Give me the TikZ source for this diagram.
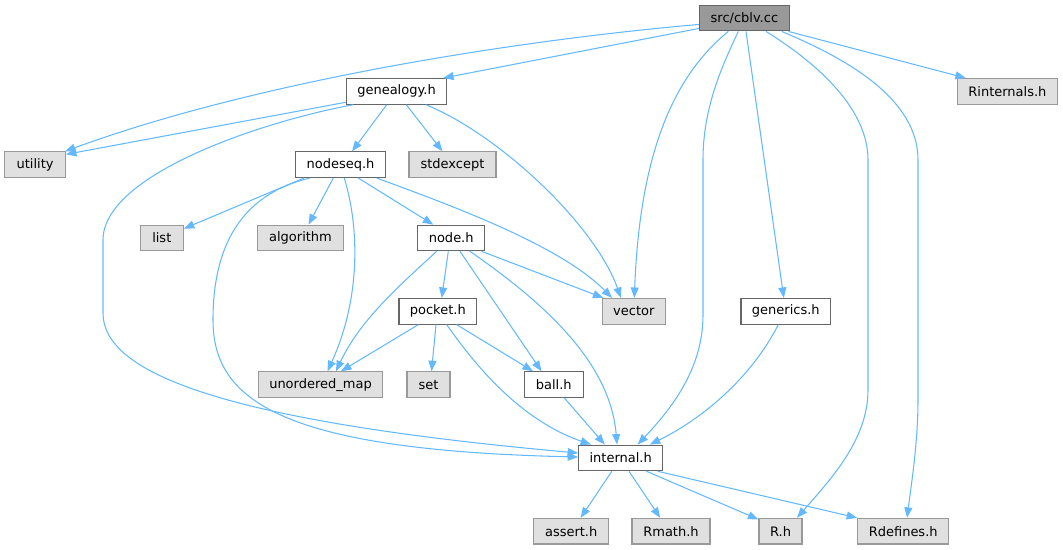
\documentclass[tikz,border=0pt]{standalone}
\usepackage{fontspec}
\setmainfont{DejaVu Sans}
\usetikzlibrary{arrows.meta}
\definecolor{edgeblue}{HTML}{63B8FF}
\definecolor{darkborder}{HTML}{666666}
\definecolor{rootfill}{HTML}{999999}
\definecolor{extborder}{HTML}{999999}
\definecolor{extfill}{HTML}{E0E0E0}
\tikzset{
  filebox/.style={draw=darkborder, fill=white, line width=1.1pt, minimum height=25.6pt,
    inner sep=0pt, font=\fontsize{13}{15}\selectfont, text=black},
  extbox/.style={filebox, draw=extborder, fill=extfill},
  rootbox/.style={filebox, draw=darkborder, fill=rootfill},
  dep/.style={draw=edgeblue, line width=1.05pt, -{Triangle[length=10.5pt,width=8pt]}}
}
\begin{document}
\begin{tikzpicture}[x=1pt,y=-1pt]
\useasboundingbox (0,0) rectangle (1063,549);
% nodes
\node[rootbox, minimum width=90pt]  (cblv)  at (744.4,18.1)  {src/cblv.cc};
\node[filebox, minimum width=100.2pt] (gen)   at (396.5,91.4)  {genealogy.h};
\node[extbox,  minimum width=100.7pt] (rint)  at (1007.4,91.4) {Rinternals.h};
\node[extbox,  minimum width=60.6pt]  (util)  at (35.1,164.7)  {utility};
\node[filebox, minimum width=89.6pt]  (nseq)  at (340.5,164.7) {nodeseq.h};
\node[extbox,  minimum width=87pt]    (stdx)  at (452.5,164.7) {stdexcept};
\node[extbox,  minimum width=43pt]    (list)  at (161.8,238)   {list};
\node[extbox,  minimum width=85.6pt]  (algo)  at (300.5,238)   {algorithm};
\node[filebox, minimum width=67pt]    (nodeh) at (451.2,238)   {node.h};
\node[filebox, minimum width=77.7pt]  (pock)  at (437.8,311.3) {pocket.h};
\node[extbox,  minimum width=63pt]    (vec)   at (633.8,311.3) {vector};
\node[filebox, minimum width=89.7pt]  (gnr)   at (785.8,311.3) {generics.h};
\node[extbox,  minimum width=124.4pt] (umap)  at (320.5,384.6) {unordered\_map};
\node[extbox,  minimum width=43pt]    (set)   at (428.5,384.6) {set};
\node[filebox, minimum width=59pt]    (ball)  at (553.8,384.6) {ball.h};
\node[filebox, minimum width=84pt]    (intl)  at (620.7,457.9) {internal.h};
\node[extbox,  minimum width=74.7pt]  (asrt)  at (571.2,531.2) {assert.h};
\node[extbox,  minimum width=78pt]    (rmath) at (671,531.2)   {Rmath.h};
\node[extbox,  minimum width=43pt]    (rh)    at (780.5,531.2) {R.h};
\node[extbox,  minimum width=91pt]    (rdef)  at (903.2,531.2) {Rdefines.h};
% edges from src/cblv.cc
\draw[dep] ([yshift=3pt]cblv.south west) -- ([xshift=-4pt]gen.north east);
\draw[dep] ([yshift=7pt]cblv.south west) .. controls (520,40) and (260,80) .. ([xshift=-1pt]util.north east);
\draw[dep] ([xshift=-16.1pt]cblv.south) .. controls (675,75) and (640,150) .. ([xshift=0.5pt]vec.north);
\draw[dep] ([xshift=-6.1pt]cblv.south) .. controls (720,70) and (703,110) .. (703,160) -- (703,315) .. controls (703,370) and (670,410) .. ([xshift=17pt]intl.north);
\draw[dep] ([xshift=1.6pt]cblv.south) -- ([xshift=-2pt]gnr.north);
\draw[dep] ([xshift=21.6pt]cblv.south) .. controls (820,65) and (868,110) .. (868,160) -- (868,390) .. controls (868,440) and (830,480) .. ([xshift=16.5pt]rh.north);
\draw[dep] ([xshift=37.3pt]cblv.south) .. controls (850,60) and (918,100) .. (918,160) -- (918,400) .. controls (918,440) and (912,480) .. ([xshift=3.8pt]rdef.north);
\draw[dep] ([xshift=-1.4pt]cblv.south east) -- ([xshift=9.3pt]rint.north west);
% edges from genealogy.h
\draw[dep] ([yshift=2.5pt]gen.south west) -- ([yshift=-3pt]util.north east);
\draw[dep] ([xshift=-9.8pt]gen.south) -- ([xshift=11.5pt]nseq.north);
\draw[dep] ([xshift=9.8pt]gen.south) -- ([xshift=-10pt]stdx.north);
\draw[dep] ([xshift=29.5pt]gen.south) .. controls (500,135) and (595,225) .. ([xshift=-12.8pt]vec.north);
\draw[dep] ([xshift=-43.5pt]gen.south) .. controls (260,122) and (103,175) .. (103,240) -- (103,313) .. controls (103,370) and (210,420) .. ([yshift=4.9pt]intl.west);
% edges from nodeseq.h
\draw[dep] ([xshift=-36.5pt]nseq.south) -- ([yshift=-4pt]list.north east);
\draw[dep] ([xshift=-7.2pt]nseq.south) -- ([xshift=8pt]algo.north);
\draw[dep] ([xshift=3.8pt]nseq.south) .. controls (360,230) and (360,300) .. ([xshift=7pt]umap.north);
\draw[dep] ([xshift=17.8pt]nseq.south) -- ([xshift=-17.9pt]nodeh.north);
\draw[dep] ([xshift=36.2pt]nseq.south) .. controls (450,205) and (560,245) .. ([xshift=-21.8pt]vec.north);
\draw[dep] ([xshift=-30.5pt]nseq.south) .. controls (238,195) and (213,250) .. (213,320) .. controls (213,400) and (280,450) .. ([yshift=0.9pt]intl.west);
% edges from node.h
\draw[dep] ([xshift=-2.9pt]nodeh.south) -- ([xshift=3.9pt]pock.north);
\draw[dep] ([xshift=-14.5pt]nodeh.south) .. controls (400,285) and (360,320) .. ([xshift=15.5pt]umap.north);
\draw[dep] ([xshift=8.8pt]nodeh.south) -- ([xshift=-12.3pt]ball.north);
\draw[dep] ([xshift=18.8pt]nodeh.south) .. controls (540,300) and (610,360) .. ([xshift=-3.7pt]intl.north);
\draw[dep] ([xshift=30.5pt]nodeh.south) -- ([xshift=1.7pt]vec.north west);
% edges from pocket.h
\draw[dep] ([xshift=-19.5pt]pock.south) -- ([xshift=20.5pt]umap.north);
\draw[dep] ([xshift=-1.8pt]pock.south) -- ([xshift=3pt]set.north);
\draw[dep] ([xshift=18.9pt]pock.south) -- ([xshift=-20.8pt]ball.north);
\draw[dep] ([xshift=8.9pt]pock.south) .. controls (475,365) and (520,420) .. ([xshift=-29.7pt]intl.north);
% ball.h, generics.h
\draw[dep] ([xshift=10.5pt]ball.south) -- ([xshift=-15.9pt]intl.north);
\draw[dep] ([xshift=-7.5pt]gnr.south) .. controls (750,380) and (700,420) .. ([xshift=29.1pt]intl.north);
% edges from internal.h
\draw[dep] ([xshift=-8.9pt]intl.south) -- ([xshift=9.4pt]asrt.north);
\draw[dep] ([xshift=8.3pt]intl.south) -- ([xshift=-10.8pt]rmath.north);
\draw[dep] ([xshift=25.7pt]intl.south) -- ([yshift=-1.6pt]rh.north west);
\draw[dep] ([xshift=-5.7pt]intl.south east) -- (rdef.north west);
\end{tikzpicture}
\end{document}
